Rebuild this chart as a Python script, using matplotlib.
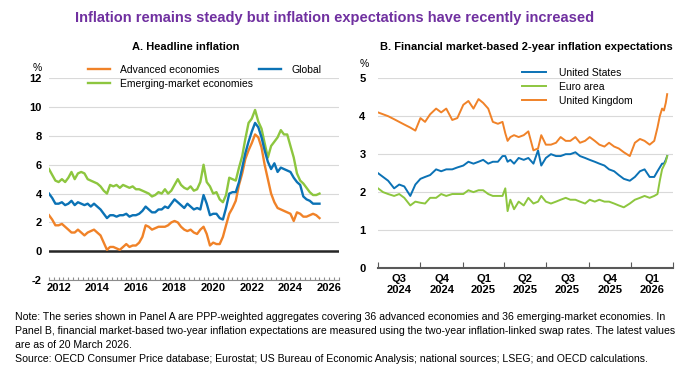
import numpy as np
import pandas as pd
import matplotlib
matplotlib.use("Agg")
import matplotlib.pyplot as plt

plt.rcParams['font.family'] = ['Liberation Sans', 'DejaVu Sans']
plt.rcParams['axes.unicode_minus'] = False

################################################################
# data: panel A, headline inflation (%), every second month
a_dates = pd.date_range('2012-01-01', '2026-01-01', freq='2MS')
advanced = [
    2.5, 2.2, 1.8, 1.8, 1.9, 1.7,
    1.5, 1.3, 1.3, 1.5, 1.3, 1.1,
    1.3, 1.4, 1.5, 1.3, 1.1, 0.6,
    0.1, 0.3, 0.3, 0.2, 0.1, 0.3,
    0.5, 0.3, 0.4, 0.4, 0.6, 1.0,
    1.8, 1.7, 1.5, 1.6, 1.7, 1.7,
    1.7, 1.8, 2.0, 2.1, 2.0, 1.7,
    1.5, 1.4, 1.5, 1.3, 1.2, 1.5,
    1.7, 1.2, 0.4, 0.6, 0.5, 0.5,
    1.0, 1.8, 2.6, 3.0, 3.5, 4.6,
    5.4, 6.4, 7.0, 7.5, 8.1, 7.9,
    7.2, 6.0, 5.0, 4.0, 3.4, 3.0,
    2.9, 2.8, 2.7, 2.6, 2.1, 2.7,
    2.6, 2.4, 2.4, 2.5, 2.6, 2.5,
    2.3]
emerging = [
    5.7, 5.3, 4.9, 4.8, 5.0, 4.8,
    5.1, 5.5, 5.0, 5.4, 5.5, 5.4,
    5.0, 4.9, 4.8, 4.7, 4.5, 4.2,
    4.0, 4.6, 4.5, 4.6, 4.4, 4.6,
    4.5, 4.4, 4.5, 4.3, 4.3, 4.2,
    4.1, 4.0, 3.8, 3.9, 4.1, 4.0,
    4.3, 4.0, 4.2, 4.6, 5.0, 4.6,
    4.4, 4.3, 4.5, 4.2, 4.3, 4.8,
    6.0, 4.8, 4.5, 4.0, 4.1, 3.6,
    3.4, 3.9, 5.1, 5.0, 4.9, 5.8,
    6.6, 7.8, 8.9, 9.2, 9.8, 9.0,
    8.5, 7.5, 6.5, 7.3, 7.6, 7.9,
    8.4, 8.1, 8.1, 7.3, 6.5, 5.4,
    4.9, 4.7, 4.4, 4.1, 3.9, 3.9,
    4.0]
global_ = [
    4.0, 3.7, 3.3, 3.3, 3.4, 3.2,
    3.3, 3.5, 3.2, 3.4, 3.3, 3.2,
    3.3, 3.1, 3.3, 3.1, 2.9, 2.6,
    2.3, 2.5, 2.5, 2.4, 2.5, 2.5,
    2.6, 2.4, 2.5, 2.5, 2.6, 2.8,
    3.1, 2.9, 2.7, 2.7, 2.9, 2.9,
    3.1, 3.0, 3.3, 3.6, 3.4, 3.2,
    3.0, 3.3, 3.1, 2.9, 3.0, 2.9,
    3.9, 3.3, 2.5, 2.6, 2.6, 2.3,
    2.2, 3.0, 4.0, 4.1, 4.1, 4.8,
    5.8, 6.8, 7.6, 8.3, 8.9, 8.6,
    7.9, 7.0, 6.2, 5.7, 6.1, 5.5,
    5.8, 5.7, 5.6, 5.5, 5.1, 4.8,
    4.6, 3.8, 3.6, 3.5, 3.3, 3.3,
    3.3]
a_year_labels = ['2012', '2014', '2016', '2018', '2020', '2022', '2024', '2026']

# data: panel B, 2-year inflation swap rates (%)
b_dates = pd.to_datetime([
    '2024-07-01', '2024-07-12', '2024-07-23', '2024-08-05', '2024-08-16', '2024-08-27',
    '2024-09-09', '2024-09-20', '2024-10-01', '2024-10-11', '2024-10-22', '2024-11-04',
    '2024-11-15', '2024-11-26', '2024-12-09', '2024-12-20', '2025-01-02', '2025-01-13',
    '2025-01-24', '2025-02-04', '2025-02-14', '2025-02-25', '2025-03-07', '2025-03-18',
    '2025-03-28', '2025-04-03', '2025-04-08', '2025-04-14', '2025-04-22', '2025-05-02',
    '2025-05-13', '2025-05-23', '2025-06-03', '2025-06-13', '2025-06-20', '2025-06-30',
    '2025-07-11', '2025-07-22', '2025-08-01', '2025-08-12', '2025-08-22', '2025-09-02',
    '2025-09-12', '2025-09-23', '2025-10-03', '2025-10-14', '2025-10-24', '2025-11-04',
    '2025-11-14', '2025-11-25', '2025-12-05', '2025-12-16', '2025-12-29', '2026-01-09',
    '2026-01-20', '2026-01-30', '2026-02-10', '2026-02-20', '2026-02-27', '2026-03-04',
    '2026-03-09', '2026-03-13', '2026-03-17', '2026-03-20'])
us = [
    2.50, 2.40, 2.30, 2.10, 2.20, 2.15, 1.90, 2.20, 2.35, 2.40, 2.45, 2.60,
    2.55, 2.60, 2.60, 2.65, 2.70, 2.80, 2.75, 2.80, 2.85, 2.75, 2.80, 2.80,
    2.95, 2.95, 2.80, 2.85, 2.75, 2.90, 2.85, 2.90, 2.75, 3.10, 2.70, 2.90,
    3.00, 2.95, 2.95, 3.00, 3.00, 3.05, 2.95, 2.90, 2.85, 2.80, 2.75, 2.70,
    2.60, 2.55, 2.45, 2.35, 2.30, 2.40, 2.55, 2.60, 2.40, 2.40, 2.55, 2.65,
    2.75, 2.75, 2.85, 2.95]
euro = [
    2.10, 2.00, 1.95, 1.90, 1.95, 1.85, 1.65, 1.75, 1.72, 1.70, 1.85, 1.85,
    1.95, 1.90, 1.95, 1.95, 1.95, 2.05, 2.00, 2.05, 2.05, 1.95, 1.90, 1.90,
    1.90, 2.10, 1.50, 1.80, 1.55, 1.75, 1.65, 1.85, 1.70, 1.75, 1.90, 1.75,
    1.70, 1.75, 1.80, 1.85, 1.80, 1.80, 1.75, 1.70, 1.80, 1.75, 1.80, 1.75,
    1.75, 1.70, 1.65, 1.60, 1.70, 1.80, 1.85, 1.90, 1.85, 1.90, 1.95, 2.30,
    2.60, 2.70, 2.80, 2.95]
uk = [
    4.10, 4.05, 4.00, 3.92, 3.85, 3.78, 3.70, 3.62, 3.95, 3.85, 4.05, 4.20,
    4.10, 4.20, 3.90, 3.95, 4.30, 4.40, 4.20, 4.45, 4.35, 4.20, 3.85, 3.80,
    3.85, 3.55, 3.35, 3.45, 3.50, 3.45, 3.50, 3.60, 3.10, 3.15, 3.50, 3.25,
    3.25, 3.30, 3.45, 3.35, 3.35, 3.45, 3.30, 3.35, 3.45, 3.35, 3.25, 3.20,
    3.30, 3.20, 3.15, 3.05, 2.95, 3.30, 3.40, 3.35, 3.25, 3.35, 3.70, 4.00,
    4.20, 4.15, 4.35, 4.58]
b_quarter_labels = ['Q3\n2024', 'Q4\n2024', 'Q1\n2025', 'Q2\n2025',
                    'Q3\n2025', 'Q4\n2025', 'Q1\n2026']

################################################################
# style
ORANGE = '#F08228'
BLUE = '#0B72B5'
GREEN = '#8DC63F'
GRID = '#D9D9D9'
PURPLE = '#7030A0'

fig = plt.figure(figsize=(7, 3.76), dpi=100)

fig.text(0.478, 0.952, 'Inflation remains steady but inflation expectations have recently increased',
         ha='center', va='center', color=PURPLE, fontsize=10.5, fontweight='bold')
fig.text(0.265, 0.875, 'A. Headline inflation', ha='center', va='center',
         fontsize=8, fontweight='bold')
fig.text(0.752, 0.875, 'B. Financial market-based 2-year inflation expectations',
         ha='center', va='center', fontsize=8, fontweight='bold')

################################################################
# panel A
ax1 = fig.add_axes([0.070, 0.255, 0.414, 0.537])
ax1.plot(a_dates, advanced, color=ORANGE, lw=1.7, label='Advanced economies')
ax1.plot(a_dates, emerging, color=GREEN, lw=1.7, label='Emerging-market economies')
ax1.plot(a_dates, global_, color=BLUE, lw=1.7, label='Global')
ax1.axhline(0, color='#262626', lw=1.8, zorder=1)

ax1.set_ylim(-2, 12)
ax1.set_yticks(np.arange(-2, 13, 2))
ax1.set_xlim(pd.Timestamp('2012-01-01'), pd.Timestamp('2027-01-01'))
ax1.grid(axis='y', color=GRID, lw=0.8)
ax1.set_axisbelow(True)

quarters = pd.date_range('2012-01-01', '2027-01-01', freq='QS')
qlabels = []
for d in quarters:
    lab = str(d.year)
    qlabels.append(lab if (d.month == 7 and lab in a_year_labels) else '')
ax1.set_xticks(quarters)
ax1.set_xticklabels(qlabels)
ax1.set_xticks(pd.date_range('2012-01-01', '2027-01-01', freq='YS'), minor=True)
ax1.tick_params(axis='x', which='major', direction='in', length=2.5, color='#8C8C8C',
                labelsize=8, pad=2)
ax1.tick_params(axis='x', which='minor', direction='in', length=4, color='#8C8C8C')
ax1.tick_params(axis='y', length=0, labelsize=8, pad=5)
for lab in ax1.get_xticklabels() + ax1.get_yticklabels():
    lab.set_fontweight('bold')
for s in ['top', 'right', 'left']:
    ax1.spines[s].set_visible(False)
ax1.spines['bottom'].set_color('#8C8C8C')
ax1.spines['bottom'].set_linewidth(0.8)
ax1.text(-0.04, 1.035, '%', transform=ax1.transAxes, fontsize=7.5, ha='center')

h, l = ax1.get_legend_handles_labels()
ax1.legend(h, l, ncol=2, loc='upper left', bbox_to_anchor=(0.134, 1.065), frameon=False,
           fontsize=7.5, handlelength=2.1, columnspacing=0.6, labelspacing=0.35,
           handletextpad=1.0, borderpad=0, borderaxespad=0)

################################################################
# panel B
ax2 = fig.add_axes([0.540, 0.287, 0.421, 0.505])
ax2.plot(b_dates, us, color=BLUE, lw=1.4, label='United States')
ax2.plot(b_dates, euro, color=GREEN, lw=1.4, label='Euro area')
ax2.plot(b_dates, uk, color=ORANGE, lw=1.4, label='United Kingdom')

ax2.set_ylim(0, 5)
ax2.set_yticks(np.arange(0, 6, 1))
ax2.set_xlim(pd.Timestamp('2024-07-01'), pd.Timestamp('2026-04-01'))
ax2.grid(axis='y', color=GRID, lw=0.8)
ax2.set_axisbelow(True)

qstarts = pd.date_range('2024-07-01', '2026-04-01', freq='QS')
ax2.set_xticks(qstarts)
ax2.set_xticklabels([''] * len(qstarts))
mids = qstarts[:-1] + (qstarts[1:] - qstarts[:-1]) / 2
ax2.set_xticks(mids, minor=True)
ax2.set_xticklabels(b_quarter_labels, minor=True)
ax2.tick_params(axis='x', which='major', direction='in', length=4, color='#595959')
ax2.tick_params(axis='x', which='minor', length=0, labelsize=8, pad=4)
ax2.tick_params(axis='y', length=0, labelsize=8, pad=9)
for lab in ax2.get_xticklabels(minor=True) + ax2.get_yticklabels():
    lab.set_fontweight('bold')
for s in ['top', 'right', 'left']:
    ax2.spines[s].set_visible(False)
ax2.spines['bottom'].set_color('#595959')
ax2.spines['bottom'].set_linewidth(1.5)
ax2.text(-0.045, 1.06, '%', transform=ax2.transAxes, fontsize=7.5, ha='center')

ax2.legend(loc='upper left', bbox_to_anchor=(0.49, 1.055), frameon=False, fontsize=7.5,
           handlelength=2.3, labelspacing=0.4, handletextpad=1.2,
           borderpad=0, borderaxespad=0)

################################################################
# note
note = ("Note: The series shown in Panel A are PPP-weighted aggregates covering 36 advanced economies and 36 emerging-market economies. In\n"
        "Panel B, financial market-based two-year inflation expectations are measured using the two-year inflation-linked swap rates. The latest values\n"
        "are as of 20 March 2026.\n"
        "Source: OECD Consumer Price database; Eurostat; US Bureau of Economic Analysis; national sources; LSEG; and OECD calculations.")
fig.text(0.022, 0.033, note, ha='left', va='bottom', fontsize=7.6,
         linespacing=1.48)

fig.savefig('out.png', dpi=100)
